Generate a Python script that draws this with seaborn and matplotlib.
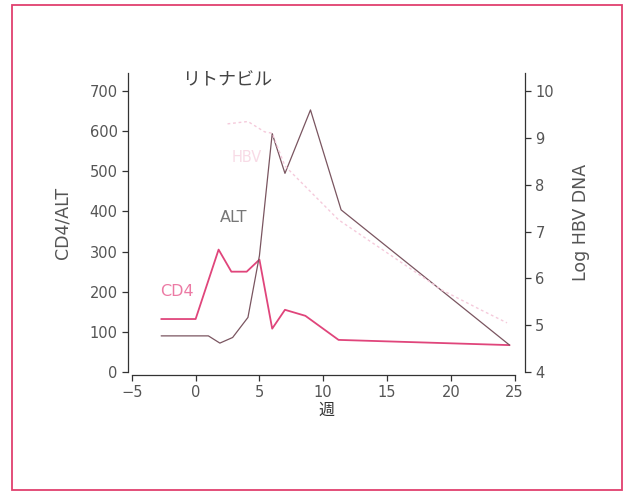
import numpy as np
import pandas as pd
import matplotlib
matplotlib.use('Agg')
import matplotlib.pyplot as plt
import seaborn as sns
from matplotlib.patches import Rectangle

# --- dati ---
weeks_cd4 = [-2.7, 0.0, 1.8, 2.8, 4.0, 5.0, 6.0, 7.0, 8.6, 11.2, 24.6]
cd4 = [132, 132, 305, 250, 250, 280, 108, 155, 140, 80, 67]

weeks_alt = [-2.7, 1.0, 1.9, 2.9, 4.1, 5.0, 6.0, 7.0, 9.0, 11.4, 24.6]
alt = [90, 90, 72, 86, 136, 290, 594, 495, 653, 404, 67]

weeks_hbv = [2.5, 4.1, 5.4, 6.0, 7.0, 11.2, 19.3, 22.4, 24.4]
hbv_log = [9.3, 9.35, 9.13, 9.1, 8.4, 7.25, 5.75, 5.32, 5.05]

x_ticks = [-5, 0, 5, 10, 15, 20, 25]
left_ticks = [0, 100, 200, 300, 400, 500, 600, 700]
right_ticks = [4, 5, 6, 7, 8, 9, 10]

TEXT_GREY = '#555555'
SPINE = '#333333'
CD4_COL = '#e0457b'
ALT_COL = '#7a5560'
HBV_COL = '#f5cadb'

sns.set_style('ticks')
plt.rcParams['font.family'] = ['DejaVu Sans', 'Noto Sans CJK JP']

df_cd4 = pd.DataFrame({'week': weeks_cd4, 'value': cd4})
df_alt = pd.DataFrame({'week': weeks_alt, 'value': alt})
df_hbv = pd.DataFrame({'week': weeks_hbv, 'value': hbv_log})

fig = plt.figure(figsize=(6.28, 4.92), dpi=100)
ax = fig.add_axes([0.2038, 0.2439, 0.632, 0.6077])
ax2 = ax.twinx()

sns.lineplot(data=df_hbv, x='week', y='value', ax=ax2, sort=False, estimator=None,
             color=HBV_COL, linewidth=1.0, linestyle=(0, (2, 2)))
sns.lineplot(data=df_cd4, x='week', y='value', ax=ax, sort=False, estimator=None,
             color=CD4_COL, linewidth=1.3)
sns.lineplot(data=df_alt, x='week', y='value', ax=ax, sort=False, estimator=None,
             color=ALT_COL, linewidth=0.9)

ax.set_xlim(-5.3, 25.8)
ax.set_ylim(0, 745)
ax2.set_ylim(4, 4 + 745 * 6 / 700)

ax.set_xticks(x_ticks)
ax.set_xticklabels([f'\u2212{abs(t)}' if t < 0 else str(t) for t in x_ticks])
ax.set_yticks(left_ticks)
ax2.set_yticks(right_ticks)

for a in (ax, ax2):
    a.tick_params(colors=SPINE, labelcolor=TEXT_GREY, labelsize=10.5, length=4, width=0.9)
    for s in a.spines.values():
        s.set_color(SPINE)
        s.set_linewidth(0.9)
    a.spines['top'].set_visible(False)

ax.spines['right'].set_visible(False)
ax2.spines['left'].set_visible(False)
ax2.spines['bottom'].set_visible(False)
ax.spines['bottom'].set_bounds(-5, 25)
ax.spines['bottom'].set_position(('outward', 2))

ax.set_xlabel('週', color='#333333', fontsize=11.5, labelpad=2)
ax.set_ylabel('CD4/ALT', color=TEXT_GREY, fontsize=12.5, labelpad=13)
ax2.set_ylabel('Log HBV DNA', color=TEXT_GREY, fontsize=12.5, labelpad=13)

# etichette interne
ax.text(-1.1, 726, 'リトナビル', color='#444444', fontsize=13, va='center', ha='left')
ax.text(1.9, 385, 'ALT', color='#777777', fontsize=11.5, va='center', ha='left')
ax.text(-2.8, 200, 'CD4', color='#ec7aa4', fontsize=11.5, va='center', ha='left')
ax.text(2.8, 535, 'HBV', color='#f8dbe6', fontsize=10.5, va='center', ha='left')

# cornice rosa della figura
fig.patches.append(Rectangle((12 / 628, 2 / 492), 610 / 628, 485 / 492,
                             transform=fig.transFigure, fill=False,
                             edgecolor='#e0406e', linewidth=1.3))

fig.savefig('out.png', dpi=100, facecolor='white')
plt.close(fig)
